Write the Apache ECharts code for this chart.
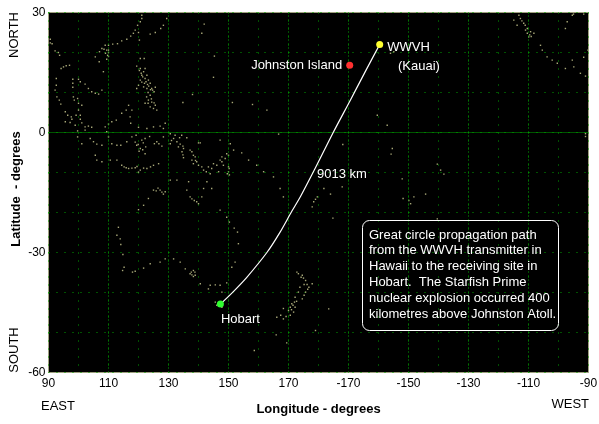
<!DOCTYPE html>
<html><head><meta charset="utf-8">
<style>html,body{margin:0;padding:0;background:#fff}#c{width:599px;height:424px}</style>
<script src="https://cdn.jsdelivr.net/npm/echarts@6/dist/echarts.min.js"></script>
</head><body><div id="c"></div>
<script>
// Longitudes are degrees east of Greenwich (0..360), latitudes in degrees.
const pathLonLat=[[147.3,-42.9],[151.7,-39.7],[156.1,-36.2],[162.8,-30],[167.2,-24.9],[171.1,-19.7],[174,-16],[178.6,-9.4],[184.9,0],[190.7,8.2],[195.5,15.1],[200.4,22]];
const hobart=[147.3,-42.9], johnston=[190.4,16.8], wwvh=[200.4,22];
const coast=[
[90.6,23.3],[90.6,22.4],[91.2,22.2],[92.2,20.4],[93.3,20],[93.7,19.3],[94.2,16],[95,16.4],[95.9,16.7],[97,16.8],[92.6,13.5],[92.6,11.8],[92.2,10.6],[92.8,8.9],[93.6,8.1],[94.1,7.1],
[98.1,13.3],[98.1,12.3],[98.1,11.3],[100,13.3],[100.6,12.7],[102.2,12.1],[103.3,11],[104.4,10.2],[105.6,9.8],[106.7,9.6],[107.8,10.6],[98.3,8.9],[98.6,8.1],[99.7,8.5],[100,7.3],[101.1,6.8],[100,5.6],[99.2,4.3],
[95.6,5.2],[96.4,4.3],[97.6,3.9],[95.6,2.7],[97.2,2.5],[97.8,3.3],[100.6,4.3],[100.6,3.3],[101.1,2.4],[102.2,1.4],[103.3,1.6],[104.4,1.3],[102.2,.6],[98.9,1.8],[99.7,.4],[99.7,-1.1],[101.1,-2.8],[103.9,-1.5],[105,-2.3],[106.1,-2.9],[107.8,-3.2],
[108.9,1.4],[110,2.1],[111.1,2.7],[112.6,3.1],[114.4,4.8],[115.9,5.6],[116.7,6.8],[117.8,5.6],[117.2,3.9],[117.4,2.3],[120,1.3],[122.8,1],[125,1.4],[127.2,1.6],[128.9,2.3],[128.3,1],
[109.4,.2],[110,-1.1],[111.1,-2.8],[112.8,-3.2],[114.1,-3.2],[116.1,-2.3],[117.8,-1.1],[119.2,-.7],[119.4,-3.2],[120.6,-4],[122.2,-1.5],[122.4,-3.6],[122.2,-5.3],[126.1,-2.3],[127.8,-3.4],[128.3,-1.1],
[130.6,-.3],[132.2,-.7],[134.4,-.7],[136.1,-1.3],[130.6,-2.8],[132.8,-2.3],[133.3,-3.6],[135,-4],[140,-2.6],[140.6,-2.6],[137.8,-4.8],[138.9,-6.1],[138.3,-7.8],[140,-8.2],[141.7,-9.4],[143.3,-8.6],[145,-7.8],[147.2,-6.9],[147.8,-6.1],[150,-5.7],[151.7,-4.4],[150.6,-2.8],[147.2,-1.9],
[154.4,-5.1],[156.7,-6.9],[159.4,-8.2],[161.7,-9.8],[165,-11.1],[167.2,-14],[168.3,-16.1],[150,-9.8],[148.3,-8.2],[146.7,-9.8],[143.9,-10.3],
[105.6,-5.7],[106.1,-6.9],[107.8,-7.3],[110.6,-6.9],[112.8,-6.9],[114.4,-8.2],[116.7,-9],[118.9,-8.8],[120.6,-9.4],[122.8,-9],[125,-8.2],[126.7,-7.8],
[130.6,-11.9],[132.8,-11.9],[136.7,-12.3],[136.1,-14.4],[137.2,-16.1],[139.4,-17.3],[141.1,-16.1],[141.7,-14],[142.8,-12.3],[144.4,-14],[128.9,-14.8],[127.2,-14.4],[125,-14.4],[123.3,-16.5],[121.7,-18.2],[120,-19.3],[147.2,-19.4],
[141.9,27.1],[141.1,24.8],[145.3,19.1],[145,13.8],[134.8,7.5],[138,9.5],[151.3,7.5],[158,7],[162.8,5.6],[166.7,-.4],
[121.1,29.3],[121.1,28.5],[120.6,27.7],[119.7,26.8],[118.9,25.6],[118.3,24.8],[117.4,24.1],[116.1,23.3],[114.4,22.9],[113,22.2],[111.4,22.1],[110,21.8],[108.9,21.8],[107.8,21],[107,20.2],[110,20.6],[109.7,19.3],[109.4,18.3],[105.6,18.9],[106.9,17.7],[108.3,15.2],
[129.4,28.5],[128.3,26.8],[127.4,26],[125.6,25],[123.9,24.6],[120.3,23.1],[120,25],
[120.6,18.5],[121.9,18.5],[119.4,16.6],[120.6,16],[122.2,16],[121.7,15.2],[121.1,14.3],[122.8,14.3],[120.6,13.1],[122.2,13.5],[123.3,13.1],[123.9,12.3],[120,11.8],[119.4,11],[121.7,11.4],[122.8,11],[124.4,11],[125.6,11.3],[125.2,10.2],[123.9,9.3],[123.3,8.1],[122.2,7.3],[123.9,6.4],[125.6,6.8],[126.1,5.6],[125,6],
[245.1,28.1],[246.8,29.3],[247.3,28.5],[248.4,27.3],[249.6,26],[250.7,25.2],[251.8,24.8],[250.1,23.9],[249.6,24.8],[246.2,26.8],[262.9,27.7],[264.6,29.3],[268.4,29.6],[262.3,26],[265,29.6],
[254,21.8],[254.6,20.6],[256.2,18.9],[257.9,18.1],[259.6,17.3],[262.3,16],[265.1,16.4],[267.3,14.8],[269,14.1],[264.6,18.1],[268.4,18.8],[269.8,20.6],
[204,19.8],[205.1,20.2],[199.6,4.3],[202.9,1.8],[269,-.3],[269,-1],[188.1,-3],[204.6,-4],[204.2,-5.4],[219.6,-7.9],[220.7,-9.4],[221.8,-10.4],[207.9,-11.6],[208.2,-16.5],[210.1,-17],[211.8,-16.1],[215.7,-15.4],[210.7,-17.8],
[179.6,-16.1],[178.4,-17.3],[177.9,-18.6],[187.9,-13.6],[184,-15.4],[181.8,-14],[179,-16.7],
[113.3,-23.7],[112.8,-25.7],[113.9,-26.6],[114.1,-28],[114.8,-30.5],[115.2,-33.7],[114.7,-34.5],[118,-34.9],[118.9,-34.7],[121.7,-33.9],[123.9,-32.8],[127.2,-32.4],[128.9,-31.6],[131.7,-31.6],[133.9,-32.4],[135.6,-34.1],[137.2,-35.3],[138.3,-34.5],[138.9,-35.7],[140.6,-37.8],[143.3,-39.1],[143.9,-38.2],[145.6,-38.1],[147.2,-38.2],[147.8,-39.9],[145.6,-42.4],[146.1,-43.2],[147.8,-43.7],
[149.4,-37.6],[152.2,-32.4],[151.1,-33.7],[153.3,-27.8],[153,-24.9],[151.9,-23.9],[150.3,-22.4],[149.4,-21.2],
[166.1,-46.2],[168.3,-44],[168.3,-46.6],[170.6,-43.7],[171.1,-42.8],[172.2,-43.7],[171.7,-44.9],[172.2,-41.2],[173.3,-39.9],[172.8,-34.9],[173.3,-35.3],[170,-44.5],[170.6,-45.7],[165.9,-50.6],[158.6,-54.5],[169.4,-52.6],
[174.6,-35.7],[175.7,-37],[176.8,-38.7],[175.7,-39.9],[174.6,-41.6],[177.9,-37.8],[183.4,-44.1],[179,-49.5],[184.8,-21.4],[219.6,-21.6],
[120.9,14.8],[121.4,13.9],[122.5,12.7],[122,12.3],[123,12],[121.1,12.6],[120.3,15.5],[123.4,11.6],[124,10.7],[124.7,10.6],[123.2,10],[122.7,8.9],[124.3,8.4],[123.2,7.3],[124.4,7.6],[125.2,7.4],
[118.9,-2.4],[119.9,-3],[120.2,-4.7],[121.4,-4.3],[121.6,-2.6],[121.1,-1.9],[123.7,-1],[125.3,-2.8],[126.8,-2.8],
[131.7,-1.5],[131,-2],[133.7,-1.3],[133.9,-2.9],[134.8,-3.4],[134.5,-4.8],[134.8,-5.6],[135,-6.3],
[137.2,-4.4],[138.3,-5.7],[139,-7],[137.8,-6.9],[139.4,-7.3],[141.1,-8.6],
[142.6,-9.8],[144.4,-9],[146.1,-8.2],[147.8,-7.3],[148.9,-6.5],[149.4,-5.3],[150.2,-9],[149.6,-10.3],[150.3,-10.6],[150,-8.6],
[115.2,-8.6],[115.9,-8.8],[117.8,-8.9],[119.5,-8.5],[120,-9.9],[121.7,-8.9],[124,-8.6],
[109.4,20.6],[110,20],[110,19],[109,19.8],[108.5,20.8],
[137.8,-16.6],[138.6,-17],[140,-17.8],[125.9,-14.6],[126.5,-13.9],[127.8,-14.9],[128.3,-15.4],
[137.8,-35.6],[138.3,-36],[137.6,-34.9],[138.8,-34.9],
[172.7,-42.2],[171.5,-43.2],[172,-42.4],[173.8,-38.7],[174.2,-36.2],[175,-36.4],[175.2,-38],[176.2,-38],[176.4,-39.2],[175.2,-40.7],[171,-44.3],[169.2,-46],[167.4,-45.7],
[249,25.6],[248.9,26.8],[250.4,24.4],[250.9,24],[247.8,27.9]
];
const majorLons=[110,130,150,170,190,210,230,250];
const noteLines=["Great circle propagation path","from the WWVH transmitter in","Hawaii to the receiving site in","Hobart.  The Starfish Prime","nuclear explosion occurred 400","kilometres above Johnston Atoll."];

const font='"Liberation Sans",Arial,sans-serif';
const tx=(text,x,y,extra)=>({type:'text',x,y,silent:true,z:50,style:Object.assign({text,fill:'#fff',font:'13px '+font,align:'left',verticalAlign:'middle'},extra||{})});
const rot=g=>Object.assign(g,{rotation:Math.PI/2});
const chart=echarts.init(document.getElementById('c'),null,{renderer:'canvas'});
chart.setOption({
  animation:false,backgroundColor:'#fff',
  grid:{left:48.5,right:10.5,top:12.5,bottom:51.5,backgroundColor:'#000',show:true,borderColor:'#a0a080',borderWidth:1,outerBoundsMode:'none'},
  xAxis:{type:'value',min:90,max:270,interval:10,name:'Longitude - degrees',nameLocation:'middle',nameGap:30,
    nameTextStyle:{color:'#000',fontWeight:'bold',fontFamily:font,fontSize:13},
    axisLine:{show:false},axisTick:{show:false},
    axisLabel:{color:'#000',fontFamily:font,fontSize:12,margin:5,showMinLabel:true,showMaxLabel:true,
      formatter:v=>(v-90)%20===0?String(v>180?v-360:v):''},
    splitLine:{show:true,lineStyle:{color:'#00a000',width:1,type:[1,7]}}},
  yAxis:{type:'value',min:-60,max:30,interval:10,
    axisLine:{show:false},axisTick:{show:false},
    axisLabel:{color:'#000',fontFamily:font,fontSize:12,margin:3,
      formatter:v=>v%30===0?String(v):''},
    splitLine:{show:true,lineStyle:{color:'#00a000',width:1,type:[1,7]}}},
  series:[
    {type:'scatter',name:'coast',data:coast,symbol:'rect',symbolSize:1.4,itemStyle:{color:'#a8a878',opacity:1},silent:true,z:3,
     markLine:{silent:true,symbol:'none',label:{show:false},animation:false,
       data:majorLons.map(v=>({xAxis:v,lineStyle:{color:'#00a000',width:1,type:[1,3]}})).concat([{yAxis:0,lineStyle:{color:'#00a800',width:1,type:[1,1]}}])}},
    {type:'line',name:'path',data:pathLonLat,smooth:0.3,showSymbol:false,lineStyle:{color:'#fff',width:1.2},silent:true,z:5},
    {type:'scatter',name:'sites',symbol:'circle',symbolSize:7,silent:true,z:6,
     label:{show:true,color:'#fff',fontFamily:font,fontSize:13},
     data:[
       {value:hobart,itemStyle:{color:'#30ff30',opacity:1},label:{formatter:'Hobart',position:'bottom',distance:5,offset:[20,0]}},
       {value:johnston,itemStyle:{color:'#ff3030',opacity:1},label:{formatter:'Johnston Island',position:'left',distance:4}},
       {value:wwvh,itemStyle:{color:'#ffff30',opacity:1},label:{formatter:'WWVH',position:'right',distance:4,offset:[0,3]}}
     ]}
  ],
  graphic:[
    tx('(Kauai)',398,66),
    tx('9013 km',317,174),
    {type:'rect',silent:true,z:50,shape:{x:362.5,y:220.5,width:196,height:110,r:7},style:{fill:null,stroke:'#fff',lineWidth:1}},
    ...noteLines.map((l,i)=>tx(l,369,235+i*15.9)),
    rot(tx('Latitude  - degrees',16,189,{fill:'#000',align:'center',font:'bold 13px '+font})),
    rot(tx('NORTH',14,35,{fill:'#000',align:'center'})),
    rot(tx('SOUTH',14,350,{fill:'#000',align:'center'})),
    tx('EAST',41,406,{fill:'#000'}),
    tx('WEST',589,404,{fill:'#000',align:'right'})
  ]
});
</script></body></html>
